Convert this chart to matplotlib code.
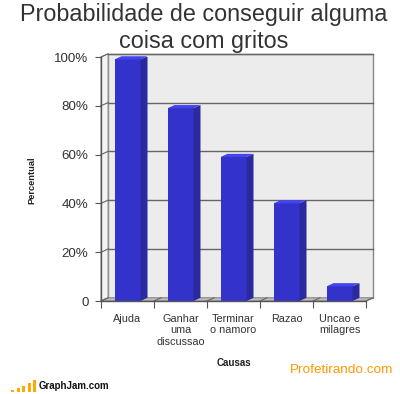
import numpy as np
import matplotlib.pyplot as plt
from matplotlib.patches import Polygon, Rectangle

plt.rcParams['font.family'] = ['Liberation Sans', 'DejaVu Sans']

categories = ['Ajuda', 'Ganhar\numa\ndiscussao', 'Terminar\no namoro', 'Razao', 'Uncao e\nmilagres']
values = [99, 79, 59, 40, 6]
y_ticks = [0, 20, 40, 60, 80, 100]
y_tick_labels = ['0', '20%', '40%', '60%', '80%', '100%']

W, H = 400, 394
fig = plt.figure(figsize=(W / 100, H / 100), dpi=100)
ax = fig.add_axes([101 / W, 93 / H, 265 / W, 244 / H])
n = len(categories)
ax.set_xlim(0, n)
ax.set_ylim(0, 100)
for s in ax.spines.values():
    s.set_visible(False)

# depth offset in data units
dx = 7 / 53
dy = 3.2 / 244 * 100

# back wall
ax.add_patch(Polygon([(dx, dy), (n + dx, dy), (n + dx, 100 + dy), (dx, 100 + dy)],
                     closed=True, facecolor='#ececec', edgecolor='#888888', lw=1, clip_on=False, zorder=1))
# left wall
ax.add_patch(Polygon([(0, 0), (dx, dy), (dx, 100 + dy), (0, 100)],
                     closed=True, facecolor='#f4f4f4', edgecolor='#999999', lw=0.8, clip_on=False, zorder=1))
# floor
ax.add_patch(Polygon([(0, 0), (n, 0), (n + dx, dy), (dx, dy)],
                     closed=True, facecolor='#bdbdbd', edgecolor='#888888', lw=0.8, clip_on=False, zorder=1))

# gridlines on back wall and left wall
for t in y_ticks[1:]:
    ax.plot([dx, n + dx], [t + dy, t + dy], color='#666666', lw=1, zorder=2, clip_on=False)
    ax.plot([0, dx], [t, t + dy], color='#666666', lw=0.8, zorder=2, clip_on=False)
# floor marks at category boundaries
for b in range(n + 1):
    ax.plot([b, b + dx], [0, dy], color='#666666', lw=0.8, zorder=2, clip_on=False)

# bars
bw = 26 / 53
for i, v in enumerate(values):
    x0 = i + 0.5 - bw / 2
    x1 = x0 + bw
    ax.add_patch(Rectangle((x0, 0), bw, v, facecolor='#3333cc', edgecolor='none', zorder=3))
    ax.add_patch(Polygon([(x1, 0), (x1 + dx, dy), (x1 + dx, v + dy), (x1, v)],
                         closed=True, facecolor='#2a2a9e', edgecolor='none', zorder=3))
    ax.add_patch(Polygon([(x0, v), (x1, v), (x1 + dx, v + dy), (x0 + dx, v + dy)],
                         closed=True, facecolor='#4444ee', edgecolor='none', zorder=3, clip_on=False))

# front axis lines
ax.plot([0, 0], [0, 100], color='#555555', lw=1, zorder=4, clip_on=False)
ax.plot([0, n], [0, 0], color='#555555', lw=1, zorder=4, clip_on=False)

ax.set_yticks(y_ticks)
ax.set_yticklabels(y_tick_labels, fontsize=9.6, color='#333333')
ax.tick_params(axis='y', length=4, width=0.8, color='#555555', pad=5)

ax.set_xticks(np.arange(n) + 0.5)
ax.set_xticklabels(categories, fontsize=7.8, color='#333333', linespacing=1.2)
ax.set_xticks(np.arange(n + 1), minor=True)
ax.tick_params(axis='x', which='major', length=0, pad=9)
ax.tick_params(axis='x', which='minor', length=5, width=0.8, color='#555555')

fig.text(0.51, 1 - 3 / H, 'Probabilidade de conseguir alguma\ncoisa com gritos',
         ha='center', va='top', fontsize=16.8, color='#333333', linespacing=1.2)
fig.text(32 / W, 1 - 180 / H, 'Percentual', rotation=90, ha='center', va='center',
         fontsize=6.7, fontweight='bold', color='#222222')
fig.text(234 / W, 1 - 363 / H, 'Causas', ha='center', va='center',
         fontsize=7, fontweight='bold', color='#222222')
fig.text(393 / W, 1 - 370 / H, 'Profetirando.com', ha='right', va='center',
         fontsize=9.7, color='#ff9900')

# GraphJam logo
bar_h = [2, 4, 6, 9, 12]
for k, h in enumerate(bar_h):
    fig.patches.append(Rectangle(((11 + k * 5.5) / W, 2 / H), 3 / W, h / H,
                                 transform=fig.transFigure, facecolor='#ffaa00', edgecolor='none'))
fig.text(39 / W, 1 - 386 / H, 'GraphJam.com', ha='left', va='center',
         fontsize=7, fontweight='bold', color='#111111')

fig.savefig('out.png', dpi=100)
